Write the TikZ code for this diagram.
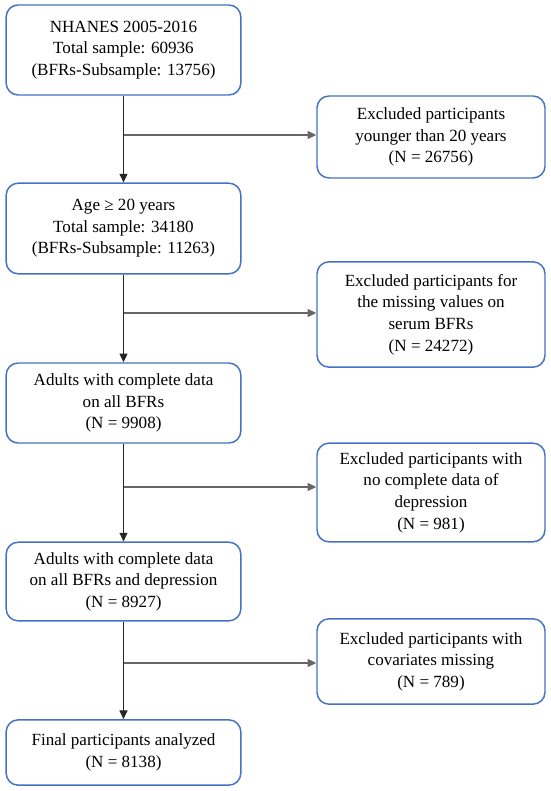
\documentclass[tikz,border=0pt]{standalone}
\usepackage{fontspec}
\setmainfont{Liberation Serif}
\usetikzlibrary{arrows.meta}
\definecolor{boxblue}{RGB}{68,114,196}
\begin{document}
\begin{tikzpicture}[x=0.75pt,y=-0.75pt,
  box/.style={draw=boxblue,line width=1.1pt,rounded corners=9pt,align=center,
    font=\fontsize{12.8}{16.2}\selectfont,inner sep=0pt},
  lbox/.style={box,minimum width=176pt},
  rbox/.style={box,minimum width=171pt},
  down/.style={draw=black!85,line width=0.8pt,-{Triangle[length=6.5pt,width=6pt]}},
  side/.style={draw=black!60,line width=0.8pt,-{Triangle[length=6.5pt,width=6pt]}}]
\useasboundingbox (0,0) rectangle (550,791);
\fill[white] (0,0) rectangle (550,791);
\node[lbox,minimum height=67.5pt] (b1) at (123.5,50) {NHANES 2005-2016\\Total sample: 60936\\(BFRs-Subsample: 13756)};
\node[lbox,minimum height=68pt] (b2) at (123.5,228.5) {Age ≥ 20 years\\Total sample: 34180\\(BFRs-Subsample: 11263)};
\node[lbox,minimum height=60pt] (b3) at (123.5,403) {Adults with complete data\\on all BFRs\\(N = 9908)};
\node[lbox,minimum height=59pt] (b4) at (123.5,581.5) {Adults with complete data\\on all BFRs and depression\\(N = 8927)};
\node[lbox,minimum height=49pt] (b5) at (123.5,752.5) {Final participants analyzed\\(N = 8138)};
\node[rbox,minimum height=61.5pt] (r1) at (431,137) {Excluded participants\\younger than 20 years\\(N = 26756)};
\node[rbox,minimum height=79pt] (r2) at (431,314.5) {Excluded participants for\\the missing values on\\serum BFRs\\(N = 24272)};
\node[rbox,minimum height=74pt] (r3) at (431,492.5) {Excluded participants with\\no complete data of\\depression\\(N = 981)};
\node[rbox,minimum height=64pt] (r4) at (431,661.5) {Excluded participants with\\covariates missing\\(N = 789)};
\coordinate (j1) at (123.5,135);
\coordinate (j2) at (123.5,313);
\coordinate (j3) at (123.5,487);
\coordinate (j4) at (123.5,663);
\draw[down] (b1) -- (b2);
\draw[down] (b2) -- (b3);
\draw[down] (b3) -- (b4);
\draw[down] (b4) -- (b5);
\draw[side] (j1) -- (j1 -| r1.west);
\draw[side] (j2) -- (j2 -| r2.west);
\draw[side] (j3) -- (j3 -| r3.west);
\draw[side] (j4) -- (j4 -| r4.west);
\end{tikzpicture}
\end{document}
